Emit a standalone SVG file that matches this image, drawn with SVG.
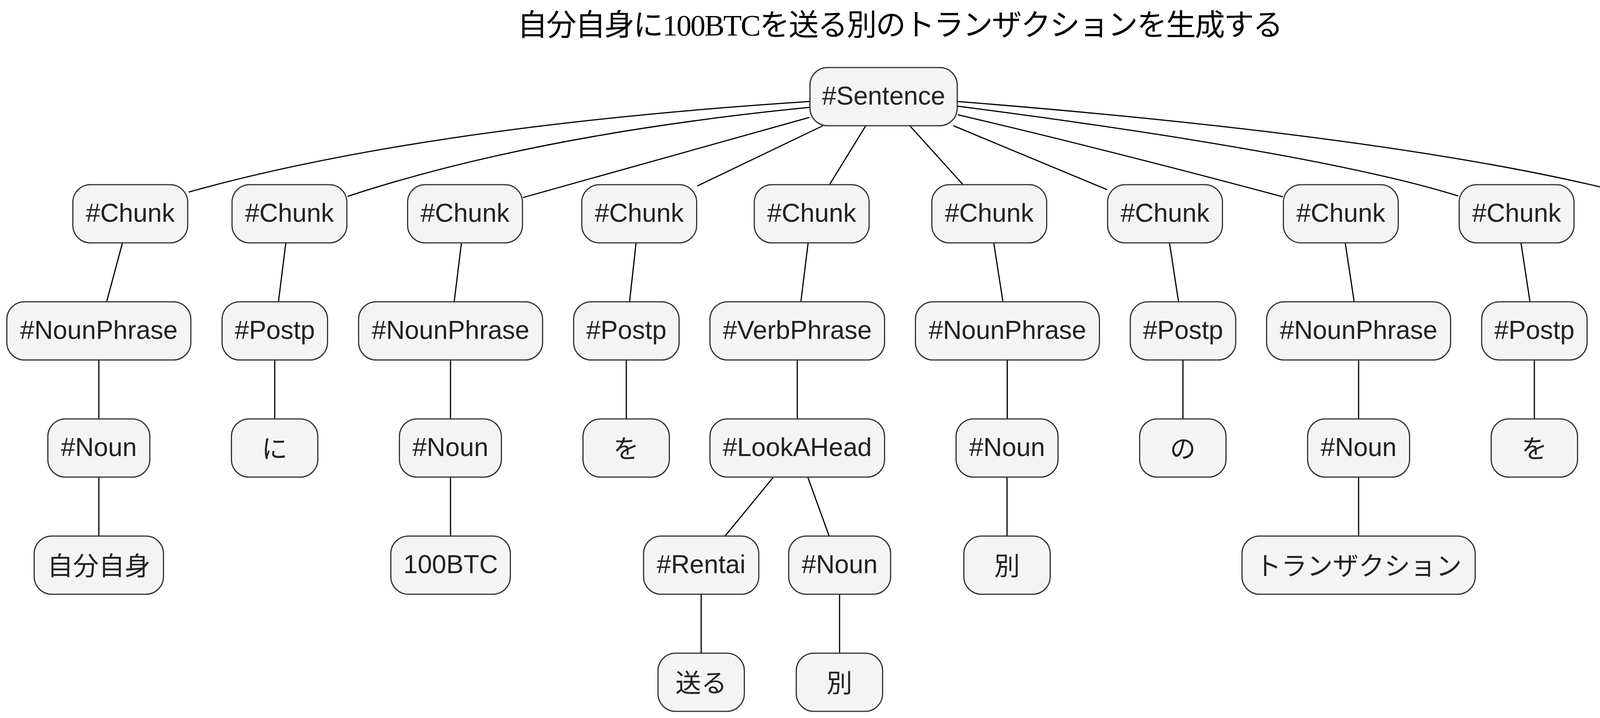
<svg xmlns="http://www.w3.org/2000/svg" width="4609" height="1839" viewBox="0 0 4609 1839">
<style>
.n rect{fill:#f4f4f4;stroke:#333;stroke-width:3}
.n text{font-family:"Liberation Sans","Noto Sans CJK JP",sans-serif;font-size:66px;fill:#222;text-anchor:middle}
.e line,.e path{stroke:#000;stroke-width:3;fill:none}
.title{font-family:"Liberation Serif","Noto Sans CJK JP",serif;font-size:77px;fill:#000;text-anchor:middle}
</style>
<rect width="4609" height="1839" fill="#fff"/>
<text class="title" x="2304.5" y="91" textLength="1960" lengthAdjust="spacing">自分自身に100BTCを送る別のトランザクションを生成する</text>
<g id="connectors" class="e">
<path d="M2072,260 Q1084,324 483,492"/>
<path d="M2072,275 Q1368,345 890,503"/>
<line x1="2072" y1="300.7" x2="1339" y2="505.9"/>
<line x1="2106.7" y1="322" x2="1785" y2="476.3"/>
<line x1="2216.4" y1="322" x2="2123.6" y2="473"/>
<line x1="2329.1" y1="322" x2="2465.4" y2="473"/>
<line x1="2440.7" y1="322" x2="2834" y2="485.7"/>
<path d="M2452,294 Q2840,385 3284,504"/>
<path d="M2452,272 Q3384,393 3733,502"/>
<path d="M2452,260 Q3613,352 4178,499"/>
<line x1="313.5" y1="622" x2="273" y2="773"/>
<line x1="253" y1="922" x2="253" y2="1073"/>
<line x1="253" y1="1222" x2="253" y2="1373"/>
<line x1="731.7" y1="622" x2="712.8" y2="773"/>
<line x1="703.3" y1="922" x2="703.3" y2="1073"/>
<line x1="1181.3" y1="622" x2="1162.7" y2="773"/>
<line x1="1153.3" y1="922" x2="1153.3" y2="1073"/>
<line x1="1153.3" y1="1222" x2="1153.3" y2="1373"/>
<line x1="1628.3" y1="622" x2="1611.7" y2="773"/>
<line x1="1603.3" y1="922" x2="1603.3" y2="1073"/>
<line x1="2068.8" y1="622" x2="2050.2" y2="773"/>
<line x1="2041" y1="922" x2="2041" y2="1073"/>
<line x1="1979.9" y1="1222" x2="1856.1" y2="1373"/>
<line x1="2067.9" y1="1222" x2="2122.6" y2="1373"/>
<line x1="1795" y1="1522" x2="1795" y2="1673"/>
<line x1="2149.3" y1="1522" x2="2149.3" y2="1673"/>
<line x1="2544" y1="622" x2="2567.5" y2="773"/>
<line x1="2578.5" y1="922" x2="2578.5" y2="1073"/>
<line x1="2578" y1="1222" x2="2578" y2="1373"/>
<line x1="2993.9" y1="622" x2="3017.1" y2="773"/>
<line x1="3028.3" y1="922" x2="3028.3" y2="1073"/>
<line x1="3443.8" y1="622" x2="3466.7" y2="773"/>
<line x1="3478" y1="922" x2="3478" y2="1073"/>
<line x1="3478" y1="1222" x2="3478" y2="1373"/>
<line x1="3893.8" y1="622" x2="3916.7" y2="773"/>
<line x1="3928" y1="922" x2="3928" y2="1073"/>
<line x1="4337.7" y1="622" x2="4356.3" y2="773"/>
<line x1="4365.5" y1="922" x2="4365.5" y2="1073"/>
<line x1="4365.5" y1="1222" x2="4365.5" y2="1373"/>
<line x1="4365.5" y1="1522" x2="4365.5" y2="1673"/>
</g>
<g id="sentence" class="n"><rect x="2073.5" y="173" width="377" height="149" rx="45"/><text x="2262" y="268">#Sentence</text></g>
<g id="chunk1" class="n"><rect x="186.5" y="473" width="294" height="149" rx="45"/><text x="333.5" y="568">#Chunk</text></g>
<g id="chunk2" class="n"><rect x="594" y="473" width="294" height="149" rx="45"/><text x="741" y="568">#Chunk</text></g>
<g id="chunk3" class="n"><rect x="1043.5" y="473" width="294" height="149" rx="45"/><text x="1190.5" y="568">#Chunk</text></g>
<g id="chunk4" class="n"><rect x="1489.5" y="473" width="294" height="149" rx="45"/><text x="1636.5" y="568">#Chunk</text></g>
<g id="chunk5" class="n"><rect x="1931" y="473" width="294" height="149" rx="45"/><text x="2078" y="568">#Chunk</text></g>
<g id="chunk6" class="n"><rect x="2385.5" y="473" width="294" height="149" rx="45"/><text x="2532.5" y="568">#Chunk</text></g>
<g id="chunk7" class="n"><rect x="2835.5" y="473" width="294" height="149" rx="45"/><text x="2982.5" y="568">#Chunk</text></g>
<g id="chunk8" class="n"><rect x="3285.5" y="473" width="294" height="149" rx="45"/><text x="3432.5" y="568">#Chunk</text></g>
<g id="chunk9" class="n"><rect x="3735.5" y="473" width="294" height="149" rx="45"/><text x="3882.5" y="568">#Chunk</text></g>
<g id="chunk10" class="n"><rect x="4181.5" y="473" width="294" height="149" rx="45"/><text x="4328.5" y="568">#Chunk</text></g>
<g id="np1" class="n"><rect x="17.5" y="773" width="471" height="149" rx="45"/><text x="253" y="868">#NounPhrase</text></g>
<g id="postp2" class="n"><rect x="568.5" y="773" width="270" height="149" rx="45"/><text x="703.5" y="868">#Postp</text></g>
<g id="np3" class="n"><rect x="918" y="773" width="471" height="149" rx="45"/><text x="1153.5" y="868">#NounPhrase</text></g>
<g id="postp4" class="n"><rect x="1468.5" y="773" width="270" height="149" rx="45"/><text x="1603.5" y="868">#Postp</text></g>
<g id="vp5" class="n"><rect x="1817.5" y="773" width="447" height="149" rx="45"/><text x="2041" y="868">#VerbPhrase</text></g>
<g id="np6" class="n"><rect x="2343.5" y="773" width="471" height="149" rx="45"/><text x="2579" y="868">#NounPhrase</text></g>
<g id="postp7" class="n"><rect x="2893.5" y="773" width="270" height="149" rx="45"/><text x="3028.5" y="868">#Postp</text></g>
<g id="np8" class="n"><rect x="3242.5" y="773" width="471" height="149" rx="45"/><text x="3478" y="868">#NounPhrase</text></g>
<g id="postp9" class="n"><rect x="3793" y="773" width="270" height="149" rx="45"/><text x="3928" y="868">#Postp</text></g>
<g id="vp10" class="n"><rect x="4142" y="773" width="447" height="149" rx="45"/><text x="4365.5" y="868">#VerbPhrase</text></g>
<g id="noun1" class="n"><rect x="122.5" y="1073" width="261" height="149" rx="45"/><text x="253" y="1168">#Noun</text></g>
<g id="ni" class="n"><rect x="592.5" y="1073" width="221" height="149" rx="45"/><text x="703" y="1173">に</text></g>
<g id="noun3" class="n"><rect x="1022.5" y="1073" width="261" height="149" rx="45"/><text x="1153" y="1168">#Noun</text></g>
<g id="wo4" class="n"><rect x="1492.5" y="1073" width="221" height="149" rx="45"/><text x="1603" y="1173">を</text></g>
<g id="lookahead5" class="n"><rect x="1817.5" y="1073" width="447" height="149" rx="45"/><text x="2041" y="1168">#LookAHead</text></g>
<g id="noun6" class="n"><rect x="2447.5" y="1073" width="261" height="149" rx="45"/><text x="2578" y="1168">#Noun</text></g>
<g id="no7" class="n"><rect x="2917.5" y="1073" width="221" height="149" rx="45"/><text x="3028" y="1173">の</text></g>
<g id="noun8" class="n"><rect x="3347.5" y="1073" width="261" height="149" rx="45"/><text x="3478" y="1168">#Noun</text></g>
<g id="wo9" class="n"><rect x="3817.5" y="1073" width="221" height="149" rx="45"/><text x="3928" y="1173">を</text></g>
<g id="lookahead10" class="n"><rect x="4142" y="1073" width="447" height="149" rx="45"/><text x="4365.5" y="1168">#LookAHead</text></g>
<g id="jibunjishin" class="n"><rect x="87.5" y="1373" width="331" height="149" rx="45"/><text x="253" y="1473">自分自身</text></g>
<g id="btc" class="n"><rect x="1000.5" y="1373" width="306" height="149" rx="45"/><text x="1153.5" y="1468">100BTC</text></g>
<g id="rentai" class="n"><rect x="1647.5" y="1373" width="295" height="149" rx="45"/><text x="1795" y="1468">#Rentai</text></g>
<g id="noun5" class="n"><rect x="2019" y="1373" width="261" height="149" rx="45"/><text x="2149.5" y="1468">#Noun</text></g>
<g id="betsu6" class="n"><rect x="2467.5" y="1373" width="221" height="149" rx="45"/><text x="2578" y="1473">別</text></g>
<g id="transaction" class="n"><rect x="3179.5" y="1373" width="597" height="149" rx="45"/><text x="3478" y="1473">トランザクション</text></g>
<g id="syushi" class="n"><rect x="4215.5" y="1373" width="300" height="149" rx="45"/><text x="4365.5" y="1468">#Syushi</text></g>
<g id="okuru" class="n"><rect x="1684.5" y="1673" width="221" height="149" rx="45"/><text x="1795" y="1773">送る</text></g>
<g id="betsu5" class="n"><rect x="2038.5" y="1673" width="221" height="149" rx="45"/><text x="2149" y="1773">別</text></g>
<g id="seiseisuru" class="n"><rect x="4201" y="1673" width="329" height="149" rx="45"/><text x="4365.5" y="1773">生成する</text></g>
</svg>
